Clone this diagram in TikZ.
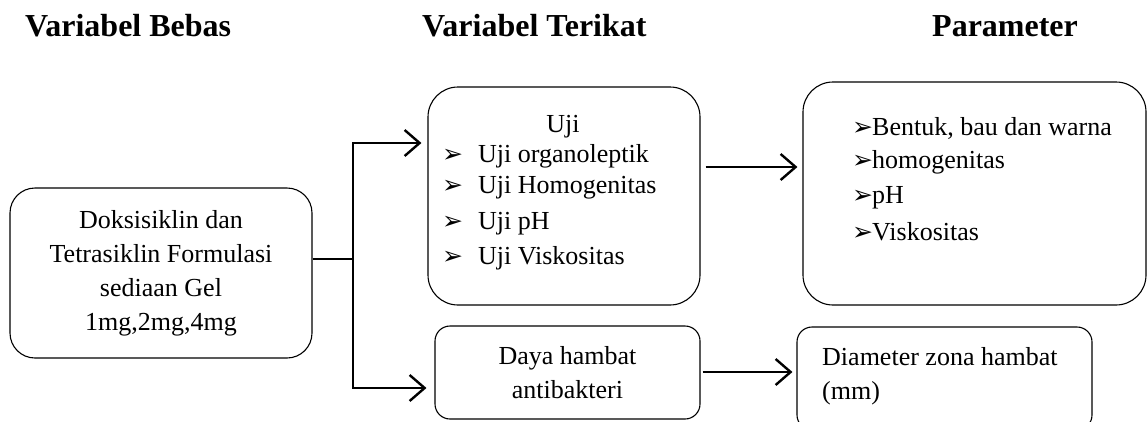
\documentclass[tikz,border=0pt]{standalone}
\usepackage{fontspec}
\setmainfont{Liberation Serif}
\newfontfamily\arrowfont{DejaVu Sans}
\usetikzlibrary{arrows.meta}
\usetikzlibrary{calc}
\newcommand{\blt}[1]{\makebox[#1][l]{\arrowfont\fontsize{25}{25}\selectfont ➢}}
\tikzset{
box/.style n args={3}{
	draw, line width=1.1pt, rounded corners=#1,
	minimum width=#2, minimum height=#3, inner sep=0pt,
	font=\fontsize{26}{34}\selectfont
},
heading/.style={font=\bfseries\fontsize{32}{32}\selectfont, anchor=base west, inner sep=0pt},
txt/.style={font=\fontsize{26}{34}\selectfont, inner sep=0pt},
item/.style={txt, anchor=base west},
link/.style={line width=2.4pt},
arr/.style={link, -{Straight Barb[length=15pt, width=26pt]}},
}
\begin{document}
\begin{tikzpicture}[x=1pt, y=-1pt]
	\useasboundingbox (0,0) rectangle (1148,421);
	%
	\node[heading] (hbebas) at (25,36) {Variabel Bebas};
	\node[heading] (hterikat) at (422,36) {Variabel Terikat};
	\node[heading] (hparam) at (932,36) {Parameter};
	
	%
	\node[box={25pt}{302pt}{170pt}, align=center] (doks) at (161,273) {Doksisiklin dan\\Tetrasiklin Formulasi\\sediaan Gel\\1mg,2mg,4mg};
	\node[box={30pt}{272pt}{218pt}] (uji) at (564,196) {};
	\node[box={30pt}{343pt}{223pt}] (param) at (974.5,193.5) {};
	\node[box={15pt}{265pt}{93pt}, align=center] (daya) at (567.5,372.5) {Daya hambat\\antibakteri};
	\node[box={15pt}{295pt}{103pt}] (diam) at (944.5,378.5) {};
	
	%
	\node[txt, anchor=base] (ujititle) at (563,132) {Uji};
	\node[item] (u1) at (442,162) {\blt{36pt}Uji organoleptik};
	\node[item] (u2) at (442,193) {\blt{36pt}Uji Homogenitas};
	\node[item] (u3) at (442,229) {\blt{36pt}Uji pH};
	\node[item] (u4) at (442,264) {\blt{36pt}Uji Viskositas};
	
	%
	\node[item] (p1) at (852,135) {\blt{20pt}Bentuk, bau dan warna};
	\node[item] (p2) at (852,168) {\blt{20pt}homogenitas};
	\node[item] (p3) at (852,203) {\blt{20pt}pH};
	\node[item] (p4) at (852,240) {\blt{20pt}Viskositas};
	
	\node[txt, anchor=west, align=left] (diamtext) at (822,376) {Diameter zona hambat\\(mm)};
	
	%
	\coordinate (split) at (353,259);
	\coordinate (top) at (353,143);
	\coordinate (bot) at (353,388);
	\coordinate (row1) at (0,167);
	\coordinate (row2) at (0,372);
	
	\draw[link] (doks.east |- split) -- (split);
	\draw[arr, shorten >=6pt] (split) |- (uji.west |- top);
	\draw[arr, shorten >=8pt] (split) |- (daya.west |- bot);
	\draw[arr, shorten <=5pt, shorten >=5pt] (uji.east |- row1) -- (param.west |- row1);
	\draw[arr, shorten <=2pt, shorten >=4pt] (daya.east |- row2) -- (diam.west |- row2);
\end{tikzpicture}
\end{document}
